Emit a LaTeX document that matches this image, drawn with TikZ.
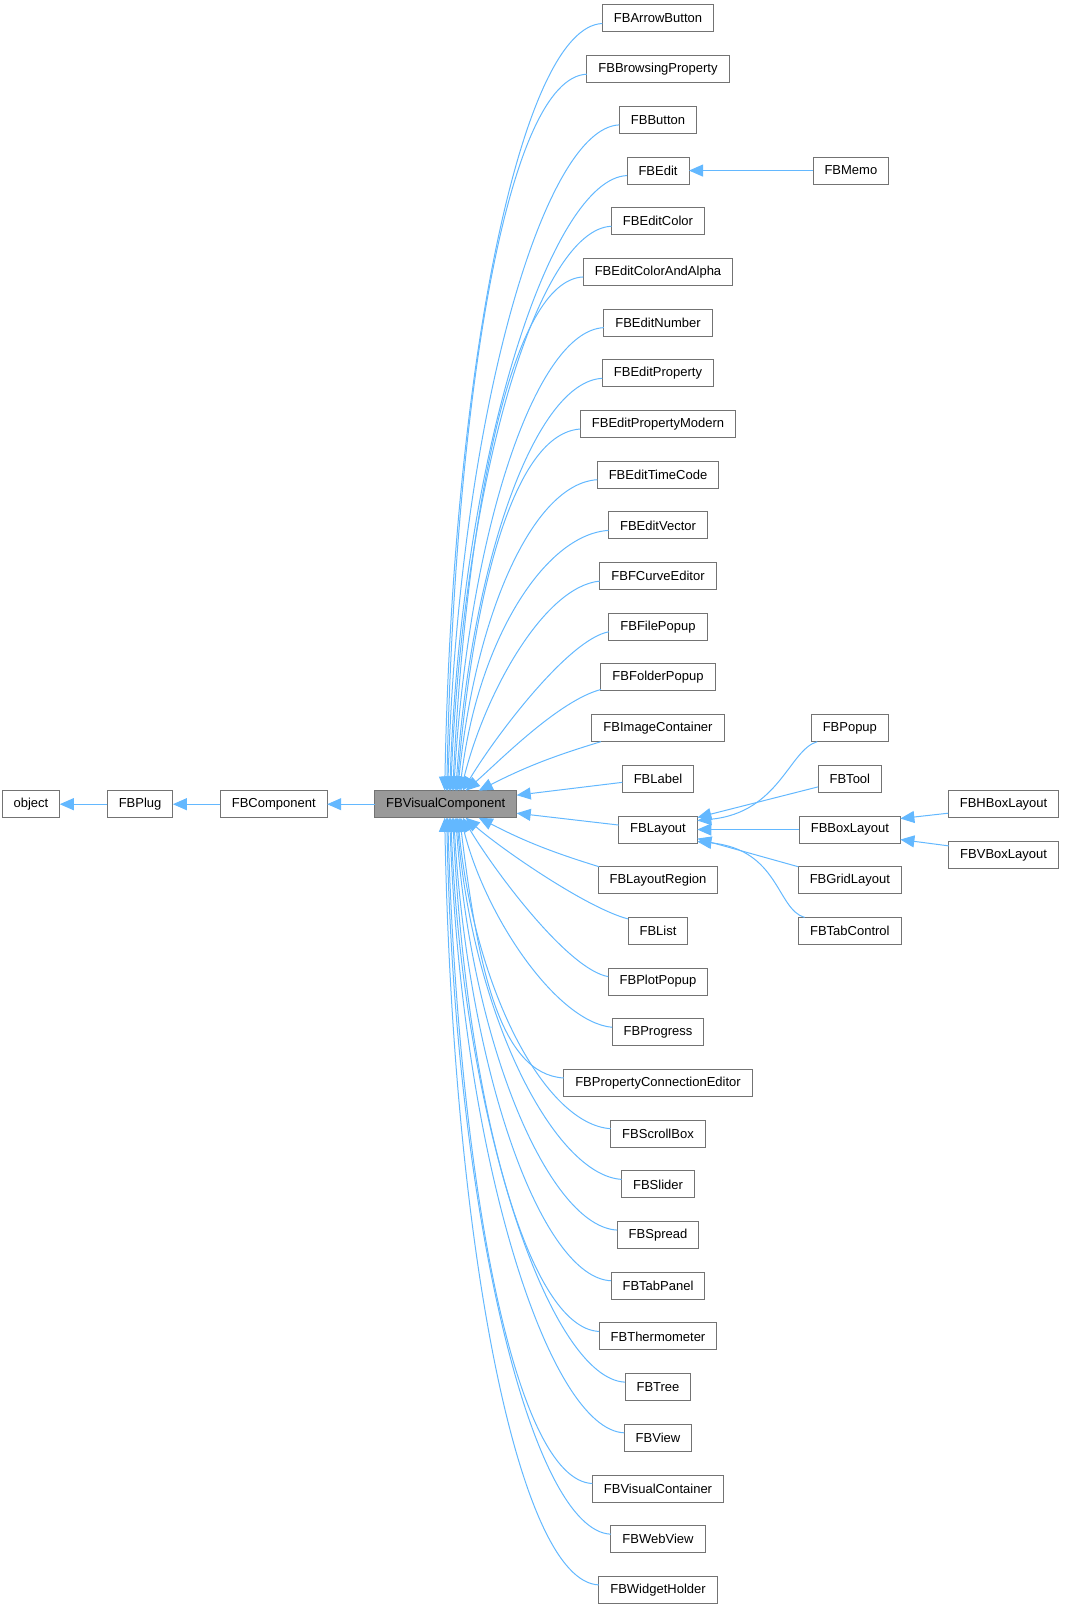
\documentclass[tikz,border=0pt]{standalone}
\usepackage{fontspec}
\setmainfont{Liberation Sans}
\usetikzlibrary{positioning, arrows.meta}
\definecolor{edgeblue}{HTML}{63B8FF}
\definecolor{boxgray}{HTML}{999999}

\begin{document}
\begin{tikzpicture}[
    x=1pt, y=-1pt,
    node distance=23.69pt and 47.5pt,
    cls/.style={rectangle, draw=black!55, fill=white, line width=1pt, outer sep=0pt, minimum height=27pt, inner xsep=11.5pt, inner ysep=2pt, font=\fontsize{13}{15}\selectfont},
    inherit/.style={-{Triangle[length=14pt, width=12pt]}, draw=edgeblue, line width=1pt}
]
    \useasboundingbox (0,0) rectangle (1065,1608);

    % Base chain
    \node[cls, fill=boxgray] (visual) at (445.7,804.2) {FBVisualComponent};
    \node[cls, left=of visual] (component) {FBComponent};
    \node[cls, left=of component] (plug) {FBPlug};
    \node[cls, left=of plug] (object) {object};

    % Derived classes
    \node[cls] (arrow-button) at (658,18.5) {FBArrowButton};
    \node[cls, below=of arrow-button] (browsing-property) {FBBrowsingProperty};
    \node[cls, below=of browsing-property] (button) {FBButton};
    \node[cls, below=of button] (edit) {FBEdit};
    \node[cls, below=of edit] (edit-color) {FBEditColor};
    \node[cls, below=of edit-color] (edit-color-alpha) {FBEditColorAndAlpha};
    \node[cls, below=of edit-color-alpha] (edit-number) {FBEditNumber};
    \node[cls, below=of edit-number] (edit-property) {FBEditProperty};
    \node[cls, below=of edit-property] (edit-property-modern) {FBEditPropertyModern};
    \node[cls, below=of edit-property-modern] (edit-time-code) {FBEditTimeCode};
    \node[cls, below=of edit-time-code] (edit-vector) {FBEditVector};
    \node[cls, below=of edit-vector] (curve-editor) {FBFCurveEditor};
    \node[cls, below=of curve-editor] (file-popup) {FBFilePopup};
    \node[cls, below=of file-popup] (folder-popup) {FBFolderPopup};
    \node[cls, below=of folder-popup] (image-container) {FBImageContainer};
    \node[cls, below=of image-container] (fb-label) {FBLabel};
    \node[cls, below=of fb-label] (layout) {FBLayout};
    \node[cls, below=of layout] (layout-region) {FBLayoutRegion};
    \node[cls, below=of layout-region] (list) {FBList};
    \node[cls, below=of list] (plot-popup) {FBPlotPopup};
    \node[cls, below=of plot-popup] (progress) {FBProgress};
    \node[cls, below=of progress] (connection-editor) {FBPropertyConnectionEditor};
    \node[cls, below=of connection-editor] (scroll-box) {FBScrollBox};
    \node[cls, below=of scroll-box] (slider) {FBSlider};
    \node[cls, below=of slider] (spread) {FBSpread};
    \node[cls, below=of spread] (tab-panel) {FBTabPanel};
    \node[cls, below=of tab-panel] (thermometer) {FBThermometer};
    \node[cls, below=of thermometer] (tree) {FBTree};
    \node[cls, below=of tree] (view) {FBView};
    \node[cls, below=of view] (visual-container) {FBVisualContainer};
    \node[cls, below=of visual-container] (web-view) {FBWebView};
    \node[cls, below=of web-view] (widget-holder) {FBWidgetHolder};

    % Second level
    \node[cls, right=124pt of edit] (memo) {FBMemo};
    \node[cls, right=102pt of layout] (box-layout) {FBBoxLayout};
    \node[cls, above=of box-layout] (tool) {FBTool};
    \node[cls, above=of tool] (popup) {FBPopup};
    \node[cls, below=of box-layout] (grid-layout) {FBGridLayout};
    \node[cls, below=of grid-layout] (tab-control) {FBTabControl};
    \node[cls, right=48pt of box-layout, yshift=25.35pt] (h-box-layout) {FBHBoxLayout};
    \node[cls, below=of h-box-layout] (v-box-layout) {FBVBoxLayout};

    % Base chain arrows
    \draw[inherit] (plug) -- (object);
    \draw[inherit] (component) -- (plug);
    \draw[inherit] (visual) -- (component);

    % Upper children
    \draw[inherit] ([yshift=-5pt]arrow-button.west) .. controls +(-81,3) and +(8,-425) .. ([xshift=-1pt]visual.north);
    \draw[inherit] ([yshift=-5pt]browsing-property.west) .. controls +(-79,3) and +(8,-397) .. ([xshift=1pt]visual.north);
    \draw[inherit] ([yshift=-5pt]button.west) .. controls +(-77,3) and +(11,-369) .. ([xshift=2pt]visual.north);
    \draw[inherit] ([yshift=-5pt]edit.west) .. controls +(-75,3) and +(12,-341) .. ([xshift=4pt]visual.north);
    \draw[inherit] ([yshift=-5pt]edit-color.west) .. controls +(-73,3) and +(13,-313) .. ([xshift=5pt]visual.north);
    \draw[inherit] ([yshift=-5pt]edit-color-alpha.west) .. controls +(-71,3) and +(14,-285) .. ([xshift=7pt]visual.north);
    \draw[inherit] ([yshift=-5pt]edit-number.west) .. controls +(-69,3) and +(15,-257) .. ([xshift=8pt]visual.north);
    \draw[inherit] ([yshift=-5pt]edit-property.west) .. controls +(-67,3) and +(16,-230) .. ([xshift=10pt]visual.north);
    \draw[inherit] ([yshift=-5pt]edit-property-modern.west) .. controls +(-66,4) and +(17,-202) .. ([xshift=11pt]visual.north);
    \draw[inherit] ([yshift=-5pt]edit-time-code.west) .. controls +(-65,4) and +(17,-174) .. ([xshift=12pt]visual.north);
    \draw[inherit] ([yshift=-5pt]edit-vector.west) .. controls +(-64,4) and +(18,-150) .. ([xshift=14pt]visual.north);
    \draw[inherit] ([yshift=-5pt]curve-editor.west) .. controls +(-55,5) and +(25,-100) .. ([xshift=15pt]visual.north);
    \draw[inherit] ([yshift=-5pt]file-popup.west) .. controls +(-40,7) and +(33,-55) .. ([xshift=17pt]visual.north);
    \draw[inherit] ([yshift=-12pt]folder-popup.west) .. controls +(-42,11) and +(34,-30) .. ([xshift=20pt]visual.north);

    % Near children
    \draw[inherit] ([xshift=9pt]image-container.south west) to[bend right=5] ([xshift=33pt]visual.north);
    \draw[inherit] ([yshift=-3.5pt]fb-label.west) -- ([yshift=9pt]visual.east);
    \draw[inherit] ([yshift=4.5pt]layout.west) -- ([yshift=-9pt]visual.east);
    \draw[inherit] ([xshift=1pt]layout-region.north west) to[bend left=5] ([xshift=33pt]visual.south);

    % Lower children
    \draw[inherit] ([yshift=12pt]list.west) .. controls +(-42,-11) and +(34,30) .. ([xshift=20pt]visual.south);
    \draw[inherit] ([yshift=5pt]plot-popup.west) .. controls +(-40,-7) and +(33,55) .. ([xshift=17pt]visual.south);
    \draw[inherit] ([yshift=5pt]progress.west) .. controls +(-55,-5) and +(25,100) .. ([xshift=15pt]visual.south);
    \draw[inherit] ([yshift=5pt]connection-editor.west) .. controls +(-64,-4) and +(18,150) .. ([xshift=14pt]visual.south);
    \draw[inherit] ([yshift=5pt]scroll-box.west) .. controls +(-65,-4) and +(17,174) .. ([xshift=12pt]visual.south);
    \draw[inherit] ([yshift=5pt]slider.west) .. controls +(-66,-4) and +(17,202) .. ([xshift=11pt]visual.south);
    \draw[inherit] ([yshift=5pt]spread.west) .. controls +(-67,-3) and +(16,230) .. ([xshift=10pt]visual.south);
    \draw[inherit] ([yshift=5pt]tab-panel.west) .. controls +(-69,-3) and +(15,257) .. ([xshift=8pt]visual.south);
    \draw[inherit] ([yshift=5pt]thermometer.west) .. controls +(-71,-3) and +(14,285) .. ([xshift=7pt]visual.south);
    \draw[inherit] ([yshift=5pt]tree.west) .. controls +(-73,-3) and +(13,313) .. ([xshift=5pt]visual.south);
    \draw[inherit] ([yshift=5pt]view.west) .. controls +(-75,-3) and +(12,341) .. ([xshift=4pt]visual.south);
    \draw[inherit] ([yshift=5pt]visual-container.west) .. controls +(-77,-3) and +(11,369) .. ([xshift=2pt]visual.south);
    \draw[inherit] ([yshift=5pt]web-view.west) .. controls +(-79,-3) and +(8,397) .. ([xshift=1pt]visual.south);
    \draw[inherit] ([yshift=5pt]widget-holder.west) .. controls +(-81,-3) and +(8,425) .. ([xshift=-1pt]visual.south);

    % Second level arrows
    \draw[inherit] (memo) -- (edit);
    \draw[inherit] ([xshift=6pt]popup.south west) .. controls +(-28,8) and +(82,-8) .. ([yshift=9pt]layout.east);
    \draw[inherit] ([yshift=-8pt]tool.west) -- ([yshift=12pt]layout.east);
    \draw[inherit] (box-layout) -- (layout);
    \draw[inherit] (grid-layout.north west) -- ([yshift=-9pt]layout.east);
    \draw[inherit] ([xshift=6pt]tab-control.north west) .. controls +(-28,-8) and +(82,8) .. ([yshift=-12pt]layout.east);
    \draw[inherit] ([yshift=-9pt]h-box-layout.west) -- ([yshift=11pt]box-layout.east);
    \draw[inherit] ([yshift=9pt]v-box-layout.west) -- ([yshift=-10pt]box-layout.east);
\end{tikzpicture}
\end{document}
